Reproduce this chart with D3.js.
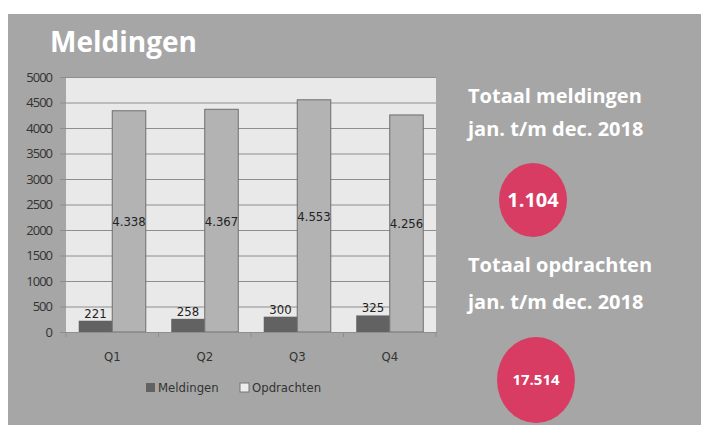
<!DOCTYPE html>
<html>
<head>
<meta charset="utf-8">
<script src="https://cdnjs.cloudflare.com/ajax/libs/d3/7.8.5/d3.min.js"></script>
<style>
  html, body { margin: 0; padding: 0; background: #fff; }
  svg { display: block; }
</style>
</head>
<body>
<div id="chart"></div>
<script>
// data
const quarters = ['Q1', 'Q2', 'Q3', 'Q4'];
const meldingen = [221, 258, 300, 325];
const opdrachten = [4338, 4367, 4553, 4256];
const yTicks = [0, 500, 1000, 1500, 2000, 2500, 3000, 3500, 4000, 4500, 5000];
const seriesNames = ['Meldingen', 'Opdrachten'];

const W = 701, H = 425;
const nl = d3.formatLocale({ decimal: ',', thousands: '.', grouping: [3], currency: ['€', ''] });
const fmt = nl.format(',d');

const svg = d3.select('#chart').append('svg')
  .attr('width', W).attr('height', H);

// grijs paneel
svg.append('rect').attr('x', 8).attr('y', 14).attr('width', W - 8).attr('height', H - 14)
  .attr('fill', '#a6a6a6');

svg.append('text').attr('x', 50).attr('y', 52)
  .text('Meldingen')
  .style('font-family', "'Open Sans', sans-serif").style('font-weight', 700)
  .style('font-size', '28px').attr('fill', '#fff');

const plot = { left: 66, right: 436, top: 77, bottom: 332 };
const x = d3.scaleBand().domain(quarters).range([plot.left, plot.right]).paddingInner(0).paddingOuter(0);
const x1 = d3.scaleBand().domain(seriesNames).range([0, x.bandwidth()]).paddingOuter(0.38).paddingInner(0);
const y = d3.scaleLinear().domain([0, 5000]).range([plot.bottom, plot.top]);

svg.append('rect').attr('x', plot.left).attr('y', plot.top)
  .attr('width', plot.right - plot.left).attr('height', plot.bottom - plot.top)
  .attr('fill', '#e9e9e9');

// y-as met rasterlijnen
const yAxis = svg.append('g').attr('transform', `translate(${plot.left},0)`)
  .call(d3.axisLeft(y).tickValues(yTicks).tickSize(-(plot.right - plot.left)).tickPadding(14).tickFormat(d3.format('d')));
yAxis.select('.domain').remove();
yAxis.selectAll('.tick line').attr('stroke', '#8e8e8e').attr('x1', -6);
yAxis.selectAll('text').attr('fill', '#333')
  .style('font-family', "'Open Sans', sans-serif").style('font-size', '13px').style('letter-spacing', '-1px');

const colors = { Meldingen: '#626262', Opdrachten: '#b3b3b3' };
const groups = svg.append('g').selectAll('g')
  .data(quarters.map((q, i) => ({ q, vals: [{ k: 'Meldingen', v: meldingen[i] }, { k: 'Opdrachten', v: opdrachten[i] }] })))
  .join('g').attr('transform', d => `translate(${x(d.q)},0)`);

groups.selectAll('rect').data(d => d.vals).join('rect')
  .attr('x', d => x1(d.k)).attr('width', x1.bandwidth())
  .attr('y', d => y(d.v)).attr('height', d => y(0) - y(d.v))
  .attr('fill', d => colors[d.k])
  .attr('stroke', d => d.k === 'Opdrachten' ? '#6e6e6e' : 'none').attr('stroke-width', 1);

const labelFont = "'DejaVu Sans Condensed', 'Liberation Sans Narrow', sans-serif";
groups.selectAll('text.val').data(d => d.vals).join('text')
  .attr('class', 'val')
  .attr('x', d => x1(d.k) + x1.bandwidth() / 2)
  .attr('y', d => d.k === 'Meldingen' ? y(d.v) - 3 : (y(d.v) + y(0)) / 2 + 5)
  .attr('text-anchor', 'middle')
  .text(d => fmt(d.v))
  .style('font-family', labelFont).style('font-size', '13px').attr('fill', '#222');

// x-as
const xAxis = svg.append('g').attr('transform', `translate(0,${plot.bottom})`)
  .call(d3.axisBottom(x).tickSize(0).tickPadding(20));
xAxis.select('.domain').attr('stroke', '#8e8e8e');
xAxis.selectAll('text').attr('fill', '#333')
  .style('font-family', labelFont).style('font-size', '13px');
xAxis.selectAll('line.sep').data(d3.range(quarters.length + 1)).join('line')
  .attr('class', 'sep')
  .attr('x1', i => plot.left + i * x.bandwidth()).attr('x2', i => plot.left + i * x.bandwidth())
  .attr('y1', 0).attr('y2', 5).attr('stroke', '#8e8e8e');

// legenda
const legend = svg.append('g').attr('transform', 'translate(146,388)');
const legX = [0, 94];
seriesNames.forEach((s, i) => {
  legend.append('rect').attr('x', legX[i]).attr('y', -5).attr('width', 9).attr('height', 9)
    .attr('fill', i === 0 ? '#626262' : '#ededed').attr('stroke', i === 0 ? 'none' : '#777');
  legend.append('text').attr('x', legX[i] + 12).attr('y', 4).text(s)
    .style('font-family', labelFont).style('font-size', '13px').attr('fill', '#333');
});

// totalen rechts
const totals = [
  { lines: ['Totaal meldingen', 'jan. t/m dec. 2018'], y: 103, gap: 33, value: d3.sum(meldingen), cx: 533, cy: 200, rx: 34, ry: 37, fs: 20 },
  { lines: ['Totaal opdrachten', 'jan. t/m dec. 2018'], y: 272, gap: 37, value: d3.sum(opdrachten), cx: 536, cy: 380, rx: 39, ry: 43, fs: 15 }
];
totals.forEach(t => {
  t.lines.forEach((l, i) => {
    svg.append('text').attr('x', 468).attr('y', t.y + i * t.gap).text(l)
      .style('font-family', "'Open Sans', sans-serif").style('font-weight', 700)
      .style('font-size', '20px').attr('fill', '#fff');
  });
  svg.append('ellipse').attr('cx', t.cx).attr('cy', t.cy).attr('rx', t.rx).attr('ry', t.ry)
    .attr('fill', '#d83c62');
  svg.append('text').attr('x', t.cx).attr('y', t.cy + t.fs * 0.36).attr('text-anchor', 'middle')
    .text(fmt(t.value))
    .style('font-family', "'Open Sans', sans-serif").style('font-weight', 700)
    .style('font-size', t.fs + 'px').attr('fill', '#fff');
});
</script>
</body>
</html>
